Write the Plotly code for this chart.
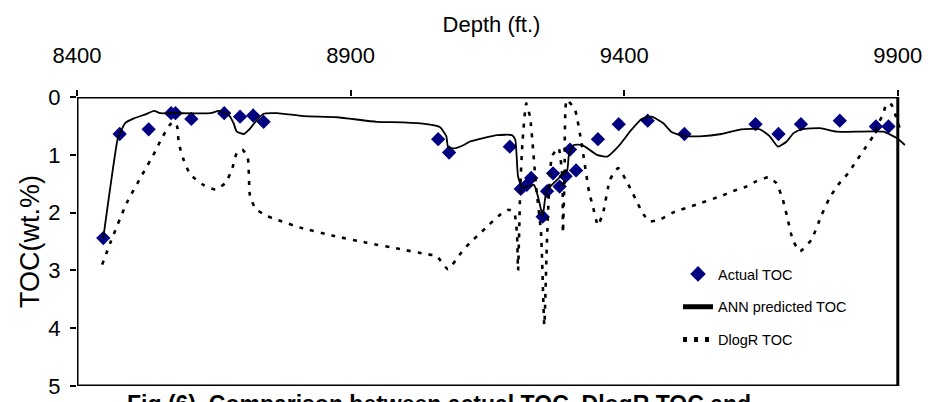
import plotly.graph_objects as go

# ---------------- data ----------------
actual_depth = [8448, 8478, 8531, 8572, 8580, 8609, 8669, 8698, 8722, 8741,
                9060, 9080, 9191, 9211, 9222, 9230, 9251, 9259, 9270, 9282,
                9293, 9301, 9312, 9352, 9390, 9443, 9510, 9640, 9682, 9723,
                9794, 9860, 9883]
actual_toc = [2.44, 0.64, 0.56, 0.28, 0.28, 0.38, 0.28, 0.34, 0.32, 0.43,
              0.73, 0.96, 0.86, 1.59, 1.52, 1.40, 2.07, 1.63, 1.32, 1.55,
              1.37, 0.91, 1.27, 0.73, 0.47, 0.41, 0.64, 0.47, 0.64, 0.47,
              0.41, 0.51, 0.51]

ann_depth = [8448, 8474, 8478, 8488, 8504, 8525, 8541, 8552, 8577, 8644,
             8659, 8677, 8686, 8692, 8705, 8714, 8726, 8741, 8765, 8814,
             8875, 8948, 8996, 9039, 9063, 9075, 9078, 9088, 9107, 9118,
             9168, 9195, 9201, 9206, 9214, 9235, 9244, 9251, 9258, 9271,
             9290, 9296, 9299, 9308, 9323, 9350, 9369, 9389, 9413, 9432,
             9450, 9471, 9486, 9505, 9538, 9578, 9614, 9648, 9666, 9681,
             9697, 9709, 9724, 9758, 9788, 9873, 9898, 9913]
ann_toc = [2.44, 0.74, 0.64, 0.45, 0.37, 0.30, 0.24, 0.28, 0.28, 0.28,
           0.24, 0.31, 0.45, 0.60, 0.64, 0.57, 0.43, 0.29, 0.28, 0.33,
           0.35, 0.43, 0.44, 0.47, 0.52, 0.68, 0.86, 0.89, 0.83, 0.77,
           0.66, 0.66, 0.74, 1.37, 1.57, 1.52, 1.78, 2.06, 1.63, 1.49,
           1.32, 1.26, 1.00, 0.83, 0.83, 1.00, 1.03, 0.86, 0.57, 0.38,
           0.34, 0.45, 0.60, 0.67, 0.68, 0.64, 0.56, 0.56, 0.68, 0.86,
           0.77, 0.63, 0.56, 0.54, 0.60, 0.60, 0.71, 0.83]

dlogr_depth = [8446, 8461, 8491, 8516, 8543, 8555, 8570, 8577, 8583, 8586,
               8595, 8607, 8631, 8653, 8671, 8683, 8692, 8702, 8712, 8716,
               8726, 8747, 8765, 8808, 8868, 8929, 8990, 9039, 9057, 9078,
               9100, 9118, 9131, 9153, 9174, 9189, 9199, 9204, 9206, 9210,
               9214, 9221, 9228, 9239, 9248, 9254, 9259, 9268, 9280, 9287,
               9288, 9291, 9295, 9310, 9322, 9336, 9343, 9352, 9362, 9374,
               9389, 9404, 9420, 9435, 9447, 9465, 9489, 9532, 9575, 9599,
               9623, 9641, 9663, 9678, 9690, 9699, 9708, 9721, 9742, 9760,
               9775, 9791, 9809, 9824, 9842, 9858, 9865, 9874, 9878, 9884,
               9889, 9906]
dlogr_toc = [2.90, 2.52, 1.83, 1.40, 0.94, 0.71, 0.48, 0.43, 0.51, 0.80,
             1.09, 1.34, 1.52, 1.60, 1.49, 1.26, 0.97, 0.91, 1.05, 1.70,
             1.93, 2.06, 2.12, 2.26, 2.40, 2.52, 2.63, 2.72, 2.75, 2.98,
             2.72, 2.52, 2.41, 2.21, 2.03, 1.95, 2.00, 2.35, 3.00, 1.60,
             0.80, 0.11, 0.35, 1.55, 2.35, 3.95, 2.45, 1.03, 0.88, 1.40,
             2.35, 1.40, 0.05, 0.22, 0.80, 1.65, 1.90, 2.22, 1.98, 1.43,
             1.23, 1.45, 1.75, 2.03, 2.15, 2.12, 2.00, 1.86, 1.72, 1.63,
             1.55, 1.46, 1.39, 1.49, 1.78, 2.12, 2.47, 2.67, 2.47, 2.06,
             1.75, 1.52, 1.32, 1.11, 0.86, 0.63, 0.45, 0.28, 0.14, 0.11,
             0.14, 0.62]

x_ticks = [8400, 8900, 9400, 9900]
y_ticks = [0, 1, 2, 3, 4, 5]

FONT = "Liberation Sans, Arial, sans-serif"

fig = go.Figure()
fig.add_trace(go.Scatter(
    x=actual_depth, y=actual_toc, mode="markers", name="Actual TOC",
    marker=dict(symbol="diamond", size=11, color="#000080"),
    legendgroup="a"))
fig.add_trace(go.Scatter(
    x=ann_depth, y=ann_toc, mode="lines", name="ANN predicted TOC",
    line=dict(color="black", width=1.8, shape="spline", smoothing=0.5),
    legendgroup="b"))
fig.add_trace(go.Scatter(
    x=dlogr_depth, y=dlogr_toc, mode="lines", name="DlogR TOC",
    line=dict(color="black", width=2.6, dash="4px,7px", shape="spline", smoothing=0.5),
    legendgroup="c"))

# plot frame
fig.add_shape(type="rect", xref="x", yref="y", x0=8400, x1=9900, y0=0, y1=5,
              line=dict(color="black", width=3), layer="above")

fig.update_layout(
    width=928, height=402,
    margin=dict(l=77, r=22, t=97, b=16, autoexpand=False),
    paper_bgcolor="white", plot_bgcolor="white",
    font=dict(family=FONT, color="black"),
    showlegend=True,
    legend=dict(x=0.725, y=0.443, xanchor="left", yanchor="top",
                bgcolor="rgba(0,0,0,0)", font=dict(size=14.5, family=FONT),
                traceorder="grouped", tracegroupgap=11, itemsizing="constant"),
    xaxis=dict(side="top", range=[8400, 9915], tickvals=x_ticks,
               ticktext=[str(v) for v in x_ticks], automargin=False,
               showgrid=False, zeroline=False, showline=False,
               ticks="outside", ticklen=6, tickwidth=1.5, tickcolor="black",
               tickfont=dict(size=22, family=FONT), ticklabelstandoff=18,
               title=dict(text="Depth (ft.)", font=dict(size=22, family=FONT), standoff=4)),
    yaxis=dict(range=[5, 0], tickvals=y_ticks, showgrid=False, zeroline=False,
               automargin=False,
               showline=False, ticks="outside", ticklen=6, tickwidth=2,
               tickcolor="black", tickfont=dict(size=22, family=FONT),
               ticklabelstandoff=5,
               title=dict(text="TOC(wt.%)", font=dict(size=27, family=FONT), standoff=0)),
    annotations=[dict(
        text="<b>Fig (6)  Comparison between actual TOC, DlogR TOC and</b>",
        xref="paper", yref="paper", x=(125 - 77) / 829, y=-0.012,
        xanchor="left", yanchor="top", showarrow=False,
        font=dict(size=23, family=FONT, color="black"))],
)

fig.write_html("out.html", config={"displayModeBar": False},
               post_script="document.body.style.margin='0';")
